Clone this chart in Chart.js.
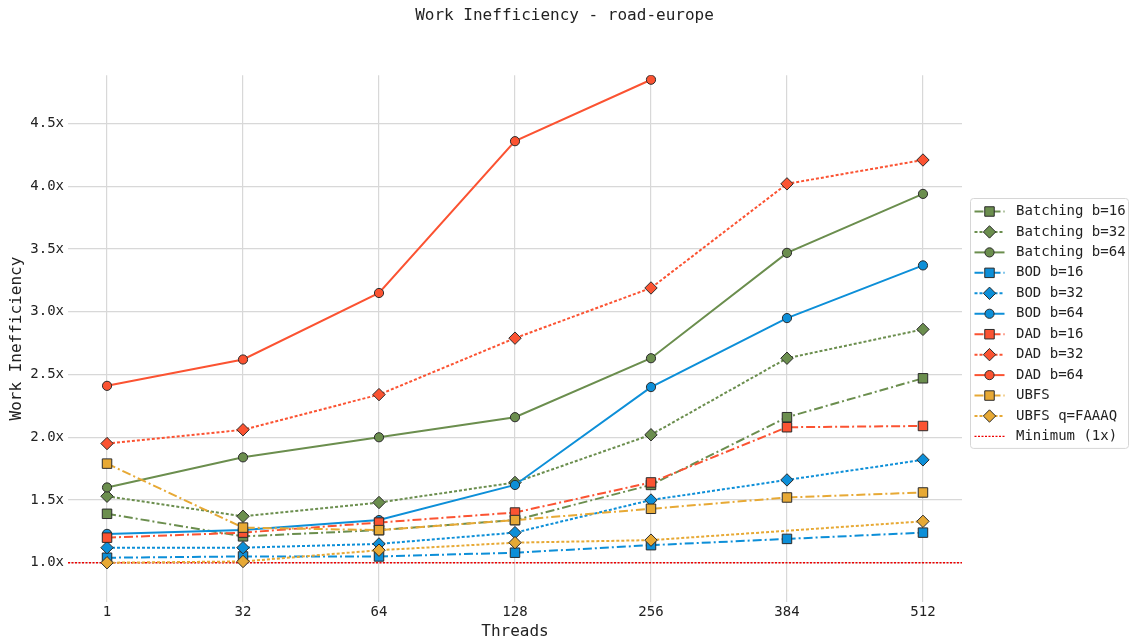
<!DOCTYPE html>
<html>
<head>
<meta charset="utf-8">
<title>Work Inefficiency - road-europe</title>
<script src="https://cdn.jsdelivr.net/npm/chart.js@4.4.1/dist/chart.umd.min.js"></script>
<style>
  html, body { margin: 0; padding: 0; background: #ffffff; }
  #wrap { width: 1129px; height: 642px; }
</style>
</head>
<body>
<div id="wrap"><canvas id="chart" width="1129" height="642"></canvas></div>
<script>
// Thread counts on the x axis (evenly spaced categories)
const threads = ['1', '32', '64', '128', '256', '384', '512'];

// Work inefficiency per configuration (null = no measurement)
const batching16 = [1.39, 1.21, 1.26, 1.34, 1.62, 2.16, 2.47];
const batching32 = [1.53, 1.37, 1.48, 1.64, 2.02, 2.63, 2.86];
const batching64 = [1.60, 1.84, 2.00, 2.16, 2.63, 3.47, 3.94];
const bod16      = [1.04, 1.05, 1.05, 1.08, 1.14, 1.19, 1.24];
const bod32      = [1.12, 1.12, 1.15, 1.24, 1.50, 1.66, 1.82];
const bod64      = [1.23, 1.26, 1.34, 1.62, 2.40, 2.95, 3.37];
const dad16      = [1.20, 1.24, 1.32, 1.40, 1.64, 2.08, 2.09];
const dad32      = [1.95, 2.06, 2.34, 2.79, 3.19, 4.02, 4.21];
const dad64      = [2.41, 2.62, 3.15, 4.36, 4.85, null, null];
const ubfs       = [1.79, 1.28, 1.26, 1.34, 1.43, 1.52, 1.56];
const ubfsFaaaq  = [1.00, 1.01, 1.10, 1.16, 1.18, null, 1.33];
const minimum    = 1.0;

// Y tick values
const yTicks = [1.0, 1.5, 2.0, 2.5, 3.0, 3.5, 4.0, 4.5];

// Axis bounds
const X_MIN = -0.287, X_MAX = 6.287;
const Y_MIN = 0.687, Y_MAX = 4.886;

const GREEN = '#6b8e4e';
const BLUE = '#0d8fd8';
const RED = '#fb5332';
const ORANGE = '#e7a935';
const EDGE = '#2b2b2b';

const DASHDOT = [9, 3, 2, 3];
const DOTTED = [3, 2];
const SOLID = [];

const FONT = "'DejaVu Sans Mono', monospace";

function pts(values) {
  return values.map((v, i) => ({ x: i, y: v }));
}

function series(label, values, color, dash, style, radius) {
  return {
    label: label,
    data: pts(values),
    borderColor: color,
    backgroundColor: color,
    borderWidth: 2,
    borderDash: dash,
    pointStyle: style,
    pointRadius: radius,
    pointHoverRadius: radius,
    pointBackgroundColor: color,
    pointBorderColor: EDGE,
    pointBorderWidth: 1,
    spanGaps: true,
    tension: 0,
    fill: false
  };
}

const SQ = 6.7, DI = 6.2, CI = 4.6;

const datasets = [
  series('Batching b=16', batching16, GREEN, DASHDOT, 'rect', SQ),
  series('Batching b=32', batching32, GREEN, DOTTED, 'rectRot', DI),
  series('Batching b=64', batching64, GREEN, SOLID, 'circle', CI),
  series('BOD b=16', bod16, BLUE, DASHDOT, 'rect', SQ),
  series('BOD b=32', bod32, BLUE, DOTTED, 'rectRot', DI),
  series('BOD b=64', bod64, BLUE, SOLID, 'circle', CI),
  series('DAD b=16', dad16, RED, DASHDOT, 'rect', SQ),
  series('DAD b=32', dad32, RED, DOTTED, 'rectRot', DI),
  series('DAD b=64', dad64, RED, SOLID, 'circle', CI),
  series('UBFS', ubfs, ORANGE, DASHDOT, 'rect', SQ),
  series('UBFS q=FAAAQ', ubfsFaaaq, ORANGE, DOTTED, 'rectRot', DI),
  {
    label: 'Minimum (1x)',
    data: [{ x: X_MIN, y: minimum }, { x: X_MAX, y: minimum }],
    borderColor: '#ee0000',
    borderWidth: 1.3,
    borderDash: [2, 1.5],
    pointRadius: 0,
    pointHoverRadius: 0,
    fill: false
  }
];

// Later series are painted on top; the minimum line sits underneath everything
const n = datasets.length;
datasets.forEach((d, i) => { d.order = (i === n - 1) ? n + 1 : n - i; });

// Legend drawn as a boxed list of line + marker samples
const sideLegend = {
  id: 'sideLegend',
  afterDraw(chart) {
    const ctx = chart.ctx;
    const area = chart.chartArea;
    const items = chart.data.datasets;
    const rowH = 20.45;
    const boxX = area.right + 8.5;
    const boxW = 158;
    const boxH = rowH * items.length + 4.5;
    const boxY = 198.5;
    ctx.save();
    ctx.beginPath();
    if (ctx.roundRect) ctx.roundRect(boxX, boxY, boxW, boxH, 3);
    else ctx.rect(boxX, boxY, boxW, boxH);
    ctx.fillStyle = 'rgba(255,255,255,0.85)';
    ctx.fill();
    ctx.strokeStyle = '#d6d6d6';
    ctx.lineWidth = 1;
    ctx.stroke();

    items.forEach((d, i) => {
      const y = boxY + 13 + i * rowH;
      const x0 = boxX + 4, x1 = boxX + 34, xm = (x0 + x1) / 2;
      ctx.save();
      ctx.beginPath();
      ctx.setLineDash(d.borderDash || []);
      ctx.strokeStyle = d.borderColor;
      ctx.lineWidth = d.borderWidth;
      ctx.moveTo(x0, y);
      ctx.lineTo(x1, y);
      ctx.stroke();
      ctx.restore();
      if (d.pointRadius > 0) {
        ctx.save();
        ctx.setLineDash([]);
        ctx.fillStyle = d.pointBackgroundColor;
        ctx.strokeStyle = d.pointBorderColor;
        ctx.lineWidth = d.pointBorderWidth;
        Chart.helpers.drawPoint(ctx, {
          pointStyle: d.pointStyle,
          rotation: 0,
          radius: d.pointRadius,
          borderWidth: d.pointBorderWidth
        }, xm, y);
        ctx.restore();
      }
      ctx.fillStyle = '#222222';
      ctx.font = '14px ' + FONT;
      ctx.textAlign = 'left';
      ctx.textBaseline = 'middle';
      ctx.fillText(d.label, boxX + 45.5, y);
    });
    ctx.restore();
  }
};

new Chart(document.getElementById('chart'), {
  type: 'line',
  data: { datasets: datasets },
  options: {
    responsive: false,
    animation: false,
    devicePixelRatio: 1,
    events: [],
    layout: { padding: 0 },
    plugins: {
      legend: { display: false },
      tooltip: { enabled: false },
      title: {
        display: true,
        text: 'Work Inefficiency - road-europe',
        color: '#222222',
        font: { family: FONT, size: 16, weight: 'normal' },
        padding: { top: 6, bottom: 50 }
      }
    },
    scales: {
      x: {
        type: 'linear',
        min: X_MIN,
        max: X_MAX,
        afterBuildTicks(scale) { scale.ticks = threads.map((t, i) => ({ value: i })); },
        afterFit(scale) { scale.height = 40; },
        ticks: {
          color: '#222222',
          font: { family: FONT, size: 14 },
          padding: 2,
          maxRotation: 0,
          autoSkip: false,
          callback: (v) => threads[v]
        },
        grid: { color: '#d8d8d8', lineWidth: 1.2, drawTicks: false },
        border: { display: false },
        title: {
          display: true,
          text: 'Threads',
          color: '#222222',
          font: { family: FONT, size: 16 },
          padding: { top: 0, bottom: 1 }
        }
      },
      y: {
        type: 'linear',
        min: Y_MIN,
        max: Y_MAX,
        afterBuildTicks(scale) { scale.ticks = yTicks.map(v => ({ value: v })); },
        afterFit(scale) { scale.width = 68; },
        ticks: {
          color: '#222222',
          font: { family: FONT, size: 14 },
          padding: 4,
          callback: (v) => v.toFixed(1) + 'x'
        },
        grid: { color: '#d8d8d8', lineWidth: 1.2, drawTicks: false },
        border: { display: false },
        title: {
          display: true,
          text: 'Work Inefficiency',
          color: '#222222',
          font: { family: FONT, size: 16 },
          padding: { top: 7, bottom: 0 }
        }
      },
      legendSpace: {
        type: 'linear',
        position: 'right',
        display: true,
        afterFit(scale) { scale.width = 167; },
        ticks: { display: false },
        grid: { display: false, drawTicks: false },
        border: { display: false }
      }
    }
  },
  plugins: [sideLegend]
});
</script>
</body>
</html>
